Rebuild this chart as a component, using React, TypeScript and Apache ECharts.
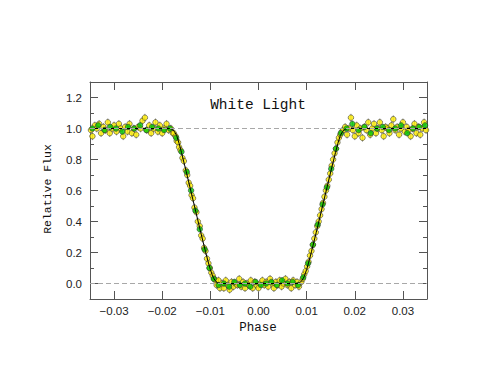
import React, { useEffect, useRef } from "react";
import * as echarts from "echarts";

// [phase, relative flux]
const yellowPoints: [number, number][] = [
  [-0.0348, 0.99], [-0.0345, 0.95], [-0.034, 1.02], [-0.0336, 1.0], [-0.0331, 1.03], [-0.0327, 0.97],
  [-0.0322, 1.01], [-0.0318, 0.99], [-0.0313, 1.04], [-0.0309, 0.97], [-0.0304, 1.0], [-0.03, 1.02],
  [-0.0295, 0.98], [-0.029, 1.03], [-0.0286, 1.0], [-0.0281, 0.95], [-0.0277, 1.01], [-0.0272, 0.98],
  [-0.0268, 1.03], [-0.0263, 0.97], [-0.0259, 1.0], [-0.0254, 0.96], [-0.025, 1.01], [-0.0245, 1.0],
  [-0.0241, 1.05], [-0.0236, 1.07], [-0.0232, 0.99], [-0.0227, 1.02], [-0.0223, 0.97], [-0.0218, 1.0],
  [-0.0214, 1.04], [-0.0209, 0.98], [-0.0205, 1.02], [-0.02, 0.97], [-0.0196, 1.0], [-0.0191, 1.03],
  [-0.0187, 0.99], [-0.0182, 1.0], [-0.0178, 0.97],
  [-0.0176, 0.97], [-0.0172, 0.95], [-0.017, 0.92], [-0.0167, 0.91], [-0.0165, 0.88], [-0.0162, 0.86],
  [-0.0158, 0.81], [-0.0155, 0.79], [-0.0151, 0.73], [-0.0148, 0.7], [-0.0145, 0.65], [-0.0142, 0.63],
  [-0.0139, 0.57], [-0.0136, 0.55], [-0.0133, 0.49], [-0.0129, 0.46], [-0.0126, 0.4], [-0.0122, 0.37],
  [-0.0119, 0.31], [-0.0116, 0.29], [-0.0113, 0.23], [-0.011, 0.21], [-0.0107, 0.16], [-0.0104, 0.13],
  [-0.0101, 0.1], [-0.0098, 0.07], [-0.0095, 0.05], [-0.0092, 0.03], [-0.0089, 0.02],
  [-0.0087, -0.01], [-0.0083, 0.02], [-0.008, -0.03], [-0.0076, 0.0], [-0.0072, -0.03], [-0.0068, 0.02],
  [-0.0064, -0.01], [-0.006, -0.04], [-0.0056, 0.01], [-0.0052, -0.02], [-0.0048, 0.0], [-0.0044, -0.01],
  [-0.004, 0.03], [-0.0036, -0.02], [-0.0032, 0.01], [-0.0028, -0.03], [-0.0024, 0.0], [-0.002, -0.01],
  [-0.0016, 0.02], [-0.0012, -0.03], [-0.0008, 0.01], [-0.0004, -0.01], [0.0, -0.03], [0.0004, 0.0],
  [0.0008, 0.02], [0.0012, -0.01], [0.0016, 0.01], [0.002, -0.02], [0.0024, 0.03], [0.0028, 0.0],
  [0.0032, -0.03], [0.0036, 0.01], [0.004, -0.01], [0.0044, 0.02], [0.0048, -0.02], [0.0052, 0.0],
  [0.0056, 0.03], [0.006, -0.01], [0.0064, 0.01], [0.0068, -0.03], [0.0072, 0.02], [0.0076, -0.01],
  [0.008, 0.01], [0.0084, -0.02],
  [0.0089, 0.01], [0.0092, 0.03], [0.0095, 0.06], [0.0098, 0.08], [0.0101, 0.11], [0.0104, 0.14],
  [0.0107, 0.18], [0.011, 0.21], [0.0113, 0.25], [0.0116, 0.29], [0.0119, 0.33], [0.0122, 0.37],
  [0.0125, 0.4], [0.0128, 0.44], [0.0131, 0.48], [0.0134, 0.52], [0.0137, 0.56], [0.014, 0.6],
  [0.0143, 0.63], [0.0146, 0.67], [0.0149, 0.71], [0.0152, 0.76], [0.0155, 0.8], [0.0158, 0.84],
  [0.0161, 0.87], [0.0164, 0.91], [0.0167, 0.94], [0.017, 0.96], [0.0173, 0.98],
  [0.0176, 0.99], [0.018, 1.01], [0.0184, 0.96], [0.0188, 1.0], [0.0192, 1.07], [0.0196, 0.99],
  [0.02, 0.95], [0.0204, 1.02], [0.0208, 0.97], [0.0212, 1.0], [0.0216, 0.94], [0.022, 1.01],
  [0.0224, 0.99], [0.0228, 1.04], [0.0232, 0.96], [0.0236, 1.0], [0.024, 1.03], [0.0244, 0.97],
  [0.0248, 1.0], [0.0252, 1.04], [0.0256, 0.99], [0.026, 0.95], [0.0264, 1.01], [0.0268, 1.0],
  [0.0272, 0.97], [0.0276, 1.02], [0.028, 1.06], [0.0284, 0.99], [0.0288, 1.01], [0.0292, 0.96],
  [0.0296, 1.0], [0.03, 1.04], [0.0304, 0.98], [0.0308, 1.01], [0.0312, 0.99], [0.0316, 0.95],
  [0.032, 1.0], [0.0324, 1.03], [0.0328, 0.97], [0.0332, 1.01], [0.0336, 0.96], [0.034, 1.0],
  [0.0344, 1.04], [0.0348, 0.99],
];

const greenPoints: [number, number][] = [
  [-0.0345, 1.0], [-0.0333, 1.02], [-0.032, 0.99], [-0.0308, 1.01], [-0.0296, 1.0], [-0.0283, 0.98],
  [-0.0271, 1.01], [-0.0258, 1.0], [-0.0246, 1.02], [-0.0233, 0.99], [-0.0221, 1.01], [-0.0208, 1.0],
  [-0.0196, 0.99], [-0.0184, 1.0],
  [-0.0171, 0.94], [-0.016, 0.85], [-0.0149, 0.72], [-0.014, 0.6], [-0.0131, 0.47], [-0.0122, 0.35],
  [-0.0112, 0.22], [-0.0102, 0.1], [-0.0093, 0.03],
  [-0.0083, -0.01], [-0.0072, 0.0], [-0.0061, -0.02], [-0.005, 0.01], [-0.0039, -0.01], [-0.0028, 0.0],
  [-0.0017, -0.02], [-0.0006, 0.01], [0.0005, -0.01], [0.0016, 0.0], [0.0027, 0.01], [0.0038, -0.01],
  [0.0049, 0.02], [0.006, 0.0], [0.0071, 0.01], [0.0082, -0.01],
  [0.0093, 0.04], [0.0103, 0.13], [0.0113, 0.25], [0.0123, 0.38], [0.0133, 0.51], [0.0142, 0.62],
  [0.0151, 0.74], [0.0161, 0.87], [0.0171, 0.97],
  [0.0183, 1.0], [0.0195, 1.03], [0.0208, 0.99], [0.022, 1.01], [0.0233, 0.97], [0.0246, 1.0],
  [0.0258, 1.01], [0.0271, 0.99], [0.0284, 1.0], [0.0296, 1.02], [0.0309, 0.97], [0.0321, 1.0],
  [0.0334, 1.01], [0.0346, 1.02],
];

const yellowErr = 0.025;
const greenErr = 0.02;

const modelCurve: [number, number][] = [
  [-0.035, 1], [-0.0185, 1], [-0.018, 0.995], [-0.0175, 0.982], [-0.017, 0.955], [-0.0165, 0.905],
  [-0.016, 0.845], [-0.015, 0.72], [-0.014, 0.59], [-0.013, 0.46], [-0.012, 0.33], [-0.011, 0.205],
  [-0.0105, 0.145], [-0.01, 0.09], [-0.0095, 0.045], [-0.009, 0.018], [-0.0085, 0.004], [-0.008, 0],
  [0.008, 0], [0.0085, 0.004], [0.009, 0.018], [0.0095, 0.045], [0.01, 0.09], [0.0105, 0.145],
  [0.011, 0.205], [0.012, 0.33], [0.013, 0.46], [0.014, 0.59], [0.015, 0.72], [0.016, 0.845],
  [0.0165, 0.905], [0.017, 0.955], [0.0175, 0.982], [0.018, 0.995], [0.0185, 1], [0.035, 1],
];

const referenceLevels = [0, 1];

const titleText = "White Light";
const xName = "Phase";
const yName = "Relative Flux";

const X_MIN = -0.035;
const X_MAX = 0.035;
const Y_MIN = -0.1;
const Y_MAX = 1.3;

const FRAME = "#555";

function errorSeries(points: [number, number][], err: number) {
  return {
    type: "custom",
    silent: true,
    clip: true,
    encode: { x: 0, y: 1 },
    data: points.map((p) => [p[0], p[1], err]),
    renderItem: (_params: any, api: any) => {
      const x = api.value(0);
      const y = api.value(1);
      const e = api.value(2);
      const a = api.coord([x, y - e]);
      const b = api.coord([x, y + e]);
      return {
        type: "line",
        shape: { x1: a[0], y1: a[1], x2: b[0], y2: b[1] },
        style: { stroke: "#9a9a9a", lineWidth: 1 },
      };
    },
  };
}

export default function App() {
  const ref = useRef<HTMLDivElement>(null);
  useEffect(() => {
    if (!ref.current) return;
    const chart = echarts.init(ref.current, null, { renderer: "svg" });
    const fmtX = (v: number) => {
      const s = Math.abs(v).toFixed(2);
      return v < -1e-9 ? "\u2212" + s : s;
    };
    const fmtY = (v: number) => {
      const s = Math.abs(v).toFixed(1);
      return v < -1e-9 ? "\u2212" + s : s;
    };
    const labelFont = { fontFamily: "Liberation Sans", fontSize: 11.5, color: "#222" };
    const baseX = {
      type: "value",
      min: X_MIN,
      max: X_MAX,
      splitNumber: 7,
      axisLine: { show: true, onZero: false, lineStyle: { color: FRAME, width: 1 } },
      axisTick: { show: true, inside: true, length: 8, lineStyle: { color: FRAME, width: 1 } },
      splitLine: { show: false },
    };
    const baseY = {
      type: "value",
      min: Y_MIN,
      max: Y_MAX,
      splitNumber: 7,
      axisLine: { show: true, onZero: false, lineStyle: { color: FRAME, width: 1 } },
      axisTick: { show: true, inside: true, length: 8, lineStyle: { color: FRAME, width: 1 } },
      splitLine: { show: false },
    };
    const minorY = {
      type: "value",
      min: Y_MIN,
      max: Y_MAX,
      interval: 0.1,
      axisLine: { show: false, onZero: false },
      axisTick: { show: true, inside: true, length: 4, lineStyle: { color: FRAME, width: 1 } },
      axisLabel: { show: false },
      splitLine: { show: false },
    };
    chart.setOption({
      animation: false,
      backgroundColor: "#fff",
      grid: { left: 90, right: 58, top: 82, bottom: 76, containLabel: false },
      xAxis: [
        {
          ...baseX,
          position: "bottom",
          axisLabel: { ...labelFont, margin: 6, showMinLabel: false, showMaxLabel: false, formatter: fmtX },
        },
        { ...baseX, position: "top", axisLabel: { show: false } },
      ],
      yAxis: [
        {
          ...baseY,
          position: "left",
          axisLabel: { ...labelFont, margin: 8, showMinLabel: false, showMaxLabel: false, formatter: fmtY },
        },
        { ...baseY, position: "right", axisLabel: { show: false } },
        { ...minorY, position: "left" },
        { ...minorY, position: "right" },
      ],
      graphic: [
        {
          type: "text",
          x: 258,
          y: 105,
          style: {
            text: titleText,
            fontFamily: "Liberation Mono",
            fontSize: 14.5,
            fill: "#111",
            align: "center",
            verticalAlign: "middle",
          },
          silent: true,
        },
        {
          type: "text",
          x: 258,
          y: 328,
          style: {
            text: xName,
            fontFamily: "Liberation Mono",
            fontSize: 12.5,
            fill: "#111",
            align: "center",
            verticalAlign: "middle",
          },
          silent: true,
        },
        {
          type: "text",
          x: 47,
          y: 189,
          rotation: Math.PI / 2,
          style: {
            text: yName,
            fontFamily: "Liberation Mono",
            fontSize: 11.5,
            fill: "#111",
            align: "center",
            verticalAlign: "middle",
          },
          silent: true,
        },
      ],
      series: [
        {
          type: "line",
          data: [],
          silent: true,
          markLine: {
            silent: true,
            symbol: "none",
            label: { show: false },
            lineStyle: { type: [5, 3], color: "#a8a8a8", width: 1 },
            data: referenceLevels.map((v) => ({ yAxis: v })),
          },
        },
        errorSeries(yellowPoints, yellowErr),
        errorSeries(greenPoints, greenErr),
        {
          type: "scatter",
          data: yellowPoints,
          symbol: "circle",
          symbolSize: 5.5,
          itemStyle: { color: "#ffee00", borderColor: "#333", borderWidth: 0.7 },
          silent: true,
        },
        {
          type: "scatter",
          data: greenPoints,
          symbol: "circle",
          symbolSize: 5.5,
          itemStyle: { color: "#00c800", borderColor: "#333", borderWidth: 0.7 },
          silent: true,
        },
        {
          type: "line",
          data: modelCurve,
          showSymbol: false,
          symbol: "none",
          lineStyle: { color: "#000", width: 1 },
          silent: true,
        },
      ],
    });
    return () => chart.dispose();
  }, []);
  return (
    <div
      ref={ref}
      style={{ position: "fixed", left: 0, top: 0, width: 485, height: 375, background: "#fff" }}
    />
  );
}
